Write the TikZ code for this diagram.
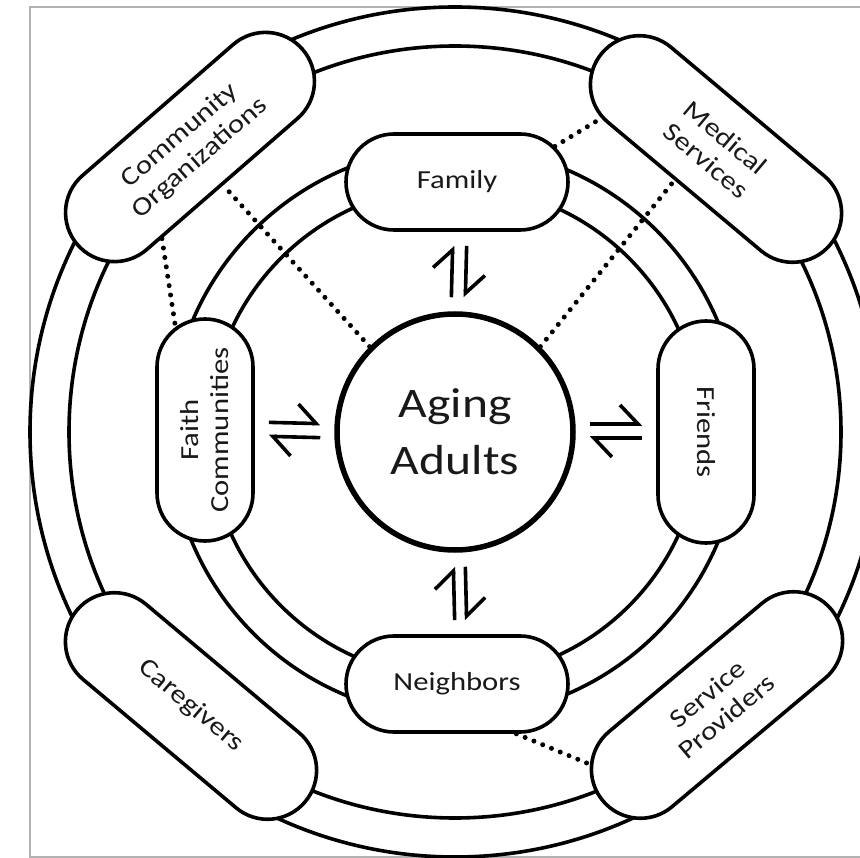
\documentclass[tikz,border=0pt]{standalone}
\usepackage{fontspec}
\setmainfont{Carlito}[FakeStretch=1.18]
\usetikzlibrary{arrows.meta, shapes.misc}

\begin{document}
\begin{tikzpicture}[x=1pt, y=-1pt, line width=3.6pt,
  hub/.style={circle, draw, fill=white, line width=5.5pt, minimum size=236pt, inner sep=0pt,
    align=center, font=\fontsize{42}{57}\selectfont, text=black!90},
  pill/.style={rounded rectangle, draw, fill=white, minimum width=222pt, minimum height=96pt,
    inner sep=0pt, align=center, font=\fontsize{26}{30}\selectfont, text=black!90},
  longpill/.style={pill, minimum width=298pt, minimum height=98pt},
  harp/.style={-{Straight Barb[left, length=18pt, width=38pt]}, shorten <=14pt, shorten >=14pt},
  link/.style={line width=5pt, dash pattern=on 0pt off 9.5pt, line cap=round},
]

\useasboundingbox (0,0) rectangle (860,858);
\clip (0,0) rectangle (860,858);

% frame
\draw[gray!60, line width=1.5pt] (870,7) -- (30,7) -- (30,857) -- (870,857);

% rings
\coordinate (mid) at (455,432);
\draw (mid) circle[radius=246] (mid) circle[radius=285];
\draw (mid) circle[radius=386] (mid) circle[radius=425];

% aging adults
\node[hub] (aging) at (mid) {Aging\\Adults};

% inner circle
\node[pill] (family) at (457,182) {Family};
\node[pill] (neighbors) at (457,684) {Neighbors};
\node[pill, rotate=90] (faith) at (205,430) {Faith\\Communities};
\node[pill, rotate=-90] (friends) at (706,432) {Friends};

% outer circle
\node[longpill, rotate=41] (community) at (190,147) {Community\\Organizations};
\node[longpill, rotate=-40] (medical) at (716,149) {Medical\\Services};
\node[longpill, rotate=-40] (caregivers) at (191,706) {Caregivers};
\node[longpill, rotate=40] (service) at (717,705) {Service\\Providers};

% exchanges
\draw[harp] ([xshift=-4pt]aging.north) -- ([xshift=-4pt]family.south);
\draw[harp] ([xshift=10pt]family.south) -- ([xshift=10pt]aging.north);
\draw[harp] ([xshift=-2pt]neighbors.north) -- ([xshift=-2pt]aging.south);
\draw[harp] ([xshift=10pt]aging.south) -- ([xshift=10pt]neighbors.north);
\draw[harp] ([yshift=8pt]faith.south) -- ([yshift=8pt]aging.west);
\draw[harp] ([yshift=-6pt]aging.west) -- ([yshift=-6pt]faith.south);
\draw[harp] ([yshift=8pt]aging.east) -- ([yshift=8pt]friends.south);
\draw[harp] ([yshift=-6pt]friends.south) -- ([yshift=-6pt]aging.east);

% links to the outer circle
\draw[link] (aging.135) -- (community.south);
\draw[link] (community.212) -- (faith.16);
\draw[link] (aging.45) -- (medical.257);
\draw[link] (family.20) -- (medical.205);
\draw[link] (neighbors.-40) -- (service.165);

\end{tikzpicture}
\end{document}
